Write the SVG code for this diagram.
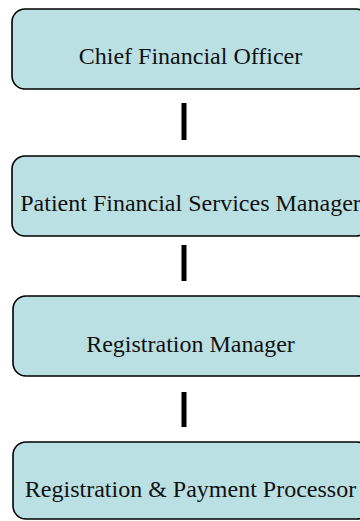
<svg xmlns="http://www.w3.org/2000/svg" width="360" height="521" viewBox="0 0 360 521">
<style>
.box{fill:#BAE0E3;stroke:#000;stroke-width:1.6}
.lbl{font-family:'Liberation Serif',serif;font-size:24px;fill:#111;text-anchor:middle}
.conn{stroke:#000;stroke-width:5}
</style>
<rect width="360" height="521" fill="#fff"/>
<g id="connectors">
<line class="conn" x1="184" y1="103" x2="184" y2="140"/>
<line class="conn" x1="184" y1="245" x2="184" y2="281"/>
<line class="conn" x1="184" y1="392" x2="184" y2="427"/>
</g>
<g id="n1"><rect class="box" x="12" y="9" width="357" height="80" rx="13"/><text class="lbl" x="190.5" y="64">Chief Financial Officer</text></g>
<g id="n2"><rect class="box" x="12" y="156" width="357" height="80" rx="13"/><text class="lbl" x="190.5" y="211">Patient Financial Services Manager</text></g>
<g id="n3"><rect class="box" x="13" y="296" width="357" height="80" rx="13"/><text class="lbl" x="190.5" y="352">Registration Manager</text></g>
<g id="n4"><rect class="box" x="13" y="442" width="357" height="77" rx="13"/><text class="lbl" x="190.5" y="497">Registration &amp; Payment Processor</text></g>
</svg>
